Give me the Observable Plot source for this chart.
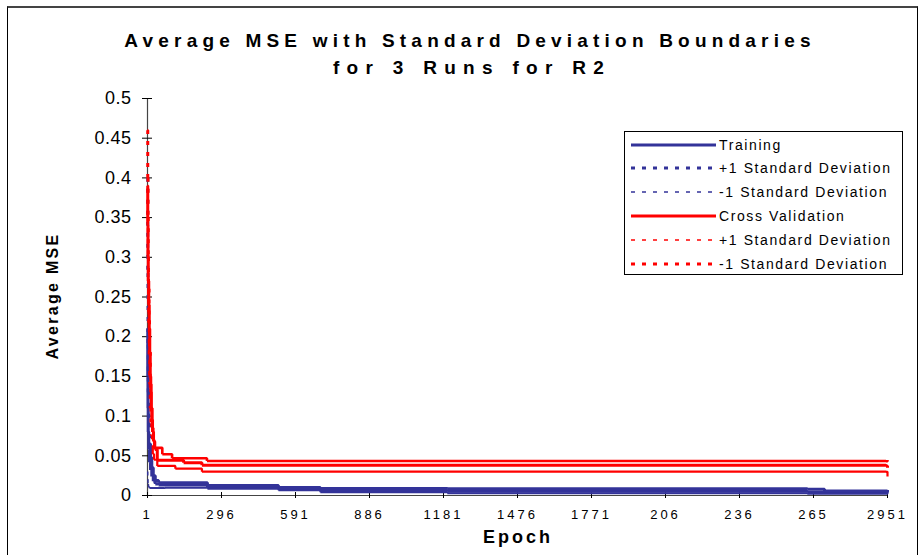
<!DOCTYPE html>
<html>
<head>
<meta charset="utf-8">
<script src="https://cdn.jsdelivr.net/npm/d3@7"></script>
<script src="https://cdn.jsdelivr.net/npm/@observablehq/plot@0.6"></script>
<style>
  body { margin: 0; background: #fff; }
  #wrap { position: relative; width: 922px; height: 555px; overflow: hidden; background: #fff;
          font-family: "Liberation Sans", Arial, Helvetica, sans-serif; }
  #frame { position: absolute; left: 7px; top: 6px; width: 909px; height: 600px;
           border-top: 2px solid #444; border-left: 1px solid #000; border-right: 1px solid #000; }
  #chart { position: absolute; left: 0; top: 0; }
  #chart svg { font-family: "Liberation Sans", Arial, Helvetica, sans-serif; }
  g[aria-label="y-axis tick label"] text { font-size: 18px; letter-spacing: 0.5px; fill: #000; }
  g[aria-label="x-axis tick label"] text { font-size: 13px; letter-spacing: 3px; fill: #000; }
  #legend { position: absolute; left: 624px; top: 131px; width: 277px; height: 142px;
            border: 1px solid #000; background: #fff; }
  .lrow { position: absolute; left: 0; height: 20px; width: 277px; }
  .lrow svg { position: absolute; left: 6px; top: 0; }
  .lrow span { position: absolute; left: 94px; top: 1px; font-size: 14px; letter-spacing: 1.6px;
               color: #000; white-space: nowrap; line-height: 18px; }
  .ttl { font-weight: bold; fill: #000; }
</style>
</head>
<body>
<div id="wrap">
  <div id="frame"></div>
  <div id="chart"></div>
  <div id="legend"></div>
</div>
<script>
// ---------- data ----------
const titleLines = ["Average MSE with Standard Deviation Boundaries", "for 3 Runs for R2"];
const xTitle = "Epoch";
const yTitle = "Average MSE";

const xTicks = [1, 296, 591, 886, 1181, 1476, 1771, 2066, 2361, 2656, 2951];
const xTickLabels = ["1", "296", "591", "886", "1181", "1476", "1771", "206", "236", "265", "2951"];
const yTicks = [0, 0.05, 0.1, 0.15, 0.2, 0.25, 0.3, 0.35, 0.4, 0.45, 0.5];
const yTickLabels = ["0", "0.05", "0.1", "0.15", "0.2", "0.25", "0.3", "0.35", "0.4", "0.45", "0.5"];

const legendLabels = ["Training", "+1 Standard Deviation", "-1 Standard Deviation",
                      "Cross Validation", "+1 Standard Deviation", "-1 Standard Deviation"];

// Training average MSE
const trainEpoch = [1, 2, 3, 4, 6, 9, 13, 18, 24, 32, 45, 240, 523, 690, 1196, 2631, 2945, 2951];
const trainMSE   = [0.21, 0.15, 0.11, 0.08, 0.058, 0.042, 0.032, 0.024, 0.018, 0.0145, 0.0132, 0.0105, 0.0082, 0.0062, 0.0052, 0.0042, 0.0040, 0.0062];
// Training +1 SD
const trainPlusEpoch = [1, 2, 3, 4, 6, 9, 13, 18, 24, 32, 45, 240, 523, 690, 1196, 2631, 2700, 2951];
const trainPlusMSE   = [0.40, 0.28, 0.19, 0.13, 0.09, 0.065, 0.048, 0.035, 0.025, 0.019, 0.0162, 0.0125, 0.0100, 0.0088, 0.0084, 0.0080, 0.0058, 0.0070];
// Training -1 SD
const trainMinusEpoch = [1, 2, 3, 5, 9, 70, 240, 523, 690, 1196, 2631, 2951];
const trainMinusMSE   = [0.03, 0.02, 0.014, 0.0105, 0.0095, 0.0098, 0.0085, 0.0065, 0.0042, 0.0028, 0.0022, 0.0035];

// Cross validation average MSE
const cvEpoch = [1, 2, 3, 4, 6, 8, 10, 12, 14, 16, 18, 21, 25, 30, 40, 145, 218, 2945, 2951];
const cvMSE   = [0.39, 0.34, 0.30, 0.27, 0.24, 0.21, 0.18, 0.15, 0.13, 0.11, 0.095, 0.08, 0.068, 0.058, 0.0444, 0.0414, 0.038, 0.0372, 0.035];
// Cross validation +1 SD
const cvPlusEpoch = [1, 2, 3, 5, 7, 9, 12, 15, 18, 22, 27, 40, 112, 218, 2945, 2951];
const cvPlusMSE   = [0.30, 0.25, 0.21, 0.17, 0.14, 0.11, 0.09, 0.075, 0.062, 0.052, 0.045, 0.0372, 0.0338, 0.0300, 0.0298, 0.024];
// Cross validation -1 SD
const cvMinusEpoch = [1, 2, 3, 4, 5, 7, 9, 12, 16, 20, 24, 28, 60, 99, 238, 2945, 2951];
const cvMinusMSE   = [0.46, 0.40, 0.35, 0.30, 0.26, 0.22, 0.18, 0.14, 0.11, 0.085, 0.07, 0.06, 0.052, 0.047, 0.0435, 0.0432, 0.0448];

// ---------- styles ----------
const BLUE = "#333399", RED = "#ff0000";
const series = [
  {ep: trainEpoch,      v: trainMSE,      color: BLUE, width: 3,   flatWidth: 3, dash: null},
  {ep: trainPlusEpoch,  v: trainPlusMSE,  color: BLUE, width: 3,   flatWidth: 3, dash: "4,7"},
  {ep: trainMinusEpoch, v: trainMinusMSE, color: BLUE, width: 1.5, flatWidth: 2, dash: "4,7"},
  {ep: cvEpoch,         v: cvMSE,         color: RED,  width: 3,   flatWidth: 3, dash: null},
  {ep: cvPlusEpoch,     v: cvPlusMSE,     color: RED,  width: 1.5, flatWidth: 2.2, dash: "4,7"},
  {ep: cvMinusEpoch,    v: cvMinusMSE,    color: RED,  width: 3,   flatWidth: 2.6, dash: "4,7"}
];

function segments(ep, v) {
  const s = [];
  for (let i = 0; i < ep.length - 1; i++) s.push({x1: ep[i], y1: v[i], x2: ep[i + 1], y2: v[i + 1]});
  return s;
}

const lineMarks = [];
for (const s of series) {
  const segs = segments(s.ep, s.v);
  const steep = segs.filter(d => d.x2 - d.x1 <= 3);
  const flat = segs.filter(d => d.x2 - d.x1 > 3);
  const base = {x1: "x1", y1: "y1", x2: "x2", y2: "y2", stroke: s.color,
                curve: "step-after", strokeLinecap: "butt", strokeLinejoin: "miter"};
  lineMarks.push(Plot.link(flat, {...base, strokeWidth: s.flatWidth}));
  lineMarks.push(Plot.link(steep, s.dash ? {...base, strokeWidth: s.width, strokeDasharray: s.dash}
                                          : {...base, strokeWidth: s.width}));
}

const chart = Plot.plot({
  width: 922,
  height: 555,
  marginLeft: 147,
  marginRight: 35,
  marginTop: 98,
  marginBottom: 60,
  style: {background: "transparent", overflow: "visible"},
  x: {domain: [1, 2951], label: null},
  y: {domain: [0, 0.5], label: null},
  marks: [
    Plot.ruleX([1], {stroke: "#444", strokeWidth: 1.2}),
    Plot.ruleY([0], {stroke: "#444", strokeWidth: 1.2}),
    Plot.axisY(yTicks, {tickSize: 10, dx: 5, tickFormat: () => "", stroke: "#000", label: null}),
    Plot.axisY(yTicks, {tickSize: 0, tickPadding: 16, tickFormat: d => yTickLabels[yTicks.indexOf(d)], label: null}),
    Plot.axisX(xTicks, {tickSize: 6, dy: -3, tickFormat: () => "", stroke: "#000", label: null}),
    Plot.axisX(xTicks, {tickSize: 0, tickPadding: 14, tickFormat: d => xTickLabels[xTicks.indexOf(d)], label: null}),
    ...lineMarks
  ]
});
document.getElementById("chart").appendChild(chart);

// titles as real SVG text
const svg = d3.select(chart);
svg.append("text").attr("class", "ttl").attr("x", 470).attr("y", 47)
  .attr("text-anchor", "middle").style("font-size", "19px").style("letter-spacing", "5.2px")
  .text(titleLines[0]);
svg.append("text").attr("class", "ttl").attr("x", 472).attr("y", 74)
  .attr("text-anchor", "middle").style("font-size", "19px").style("letter-spacing", "7.3px")
  .text(titleLines[1]);
svg.append("text").attr("class", "ttl").attr("x", 518).attr("y", 543)
  .attr("text-anchor", "middle").style("font-size", "18px").style("letter-spacing", "3px")
  .text(xTitle);
svg.append("text").attr("class", "ttl").attr("transform", "translate(58,296) rotate(-90)")
  .attr("text-anchor", "middle").style("font-size", "16px").style("letter-spacing", "2.3px")
  .text(yTitle);

// legend
const legend = d3.select("#legend");
const rowCenters = [13, 36, 60, 84, 108, 132];
legendLabels.forEach((lab, i) => {
  const s = series[i];
  const row = legend.append("div").attr("class", "lrow").style("top", (rowCenters[i] - 10) + "px");
  const sv = row.append("svg").attr("width", 86).attr("height", 20);
  sv.append("line").attr("x1", 0).attr("x2", 85).attr("y1", 10).attr("y2", 10)
    .attr("stroke", s.color).attr("stroke-width", s.width)
    .attr("stroke-dasharray", s.dash ? s.dash : null);
  row.append("span").text(lab);
});
</script>
</body>
</html>
